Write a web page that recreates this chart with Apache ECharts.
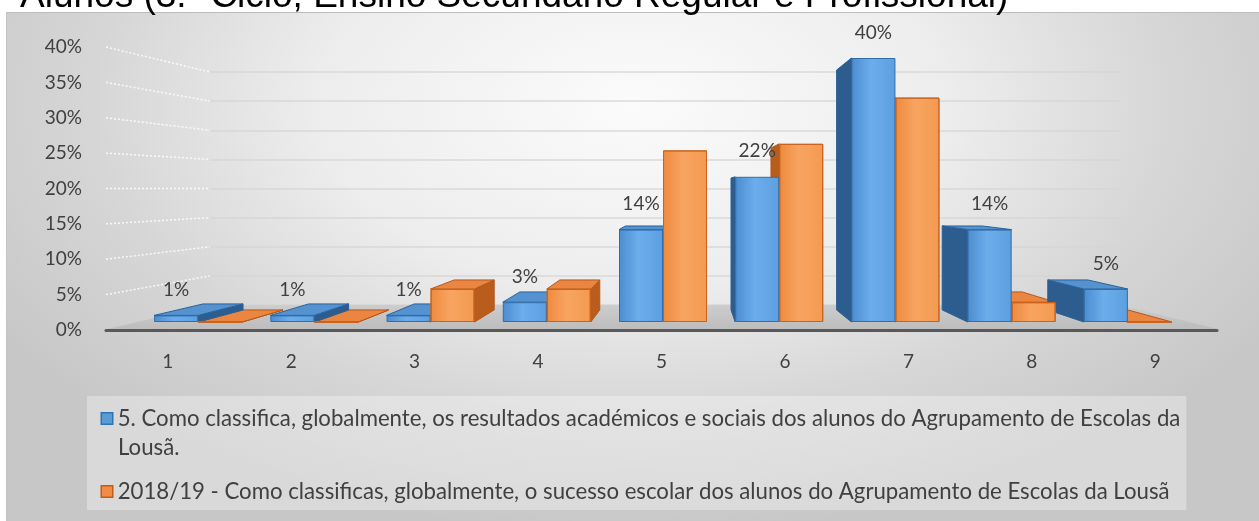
<!DOCTYPE html>
<html>
<head>
<meta charset="utf-8">
<script src="https://cdn.jsdelivr.net/npm/echarts@6/dist/echarts.min.js"></script>
<style>
  html, body { margin: 0; padding: 0; background: #ffffff; }
  #panel {
    position: absolute; left: 6px; top: 12px; width: 1253px; height: 509px;
    box-sizing: border-box; border-top: 1px solid #bcbcbc; border-left: 1px solid #c4c4c4;
    background: radial-gradient(ellipse 60% 85% at 50% 18%, #fbfbfb 0%, #ededed 42%, #d6d6d6 72%, #c7c7c7 100%);
  }
  #chart { position: absolute; left: 0; top: 0; width: 1259px; height: 521px; }
</style>
</head>
<body>
<div id="panel"></div>
<div id="chart"></div>
<script>
// Response scale 1..9 and the share of answers for each value
const categories = ['1', '2', '3', '4', '5', '6', '7', '8', '9'];
const resultsSeries = [1, 1, 1, 3, 14, 22, 40, 14, 5];
const successSeries = [0, 0, 5, 5, 26, 27, 34, 3, 0];
const percentTicks = [0, 5, 10, 15, 20, 25, 30, 35, 40];

const nameResults = '5. Como classifica, globalmente, os resultados académicos e sociais dos alunos do Agrupamento de Escolas da Lousã.';
const nameSuccess = '2018/19 - Como classificas, globalmente, o sucesso escolar dos alunos do Agrupamento de Escolas da Lousã';
const titleText = 'Alunos (3.º Ciclo, Ensino Secundário Regular e Profissional)';

const FONT = 'Lato';
const TEXT = '#404040';
const BAR_W = 44;

// simple one-point perspective for the bar boxes
const PERSPECTIVE = { depth: 0.0915, vxFrac: 0.525, horizonValue: 20 };

const chart = echarts.init(document.getElementById('chart'), null, { renderer: 'canvas' });

function hGrad(a, b, c) {
  return new echarts.graphic.LinearGradient(0, 0, 1, 0, [
    { offset: 0, color: a }, { offset: 0.45, color: b }, { offset: 1, color: c }
  ]);
}

const boxStyles = [
  { side: '#2d5c8e', top: '#5592d0', stroke: '#2a6199' },   // results
  { side: '#b95d1c', top: '#ea8640', stroke: '#b5561a' }    // success
];

// top and side faces of each bar; the front faces come from the bar series
function renderBoxes(params, api) {
  const cs = params.coordSys;
  const vx = cs.x + cs.width * PERSPECTIVE.vxFrac;
  const vy = api.coord([0, PERSPECTIVE.horizonValue])[1];
  const f = PERSPECTIVE.depth;
  const back = p => [p[0] + f * (vx - p[0]), p[1] + f * (vy - p[1])];
  const idx = api.value(0);
  const children = [];
  // draw the right-hand series first so the left one sits over it
  [[2, 0, boxStyles[1]], [1, -BAR_W, boxStyles[0]]].forEach(([dim, shift, st]) => {
    const v = api.value(dim);
    const c = api.coord([idx, v]);
    const b = api.coord([idx, 0]);
    const L = c[0] + shift, R = L + BAR_W, T = c[1], B = b[1];
    const faces = [];
    if (L > vx) faces.push({ pts: [[L, T], back([L, T]), back([L, B]), [L, B]], fill: st.side });
    if (R < vx) faces.push({ pts: [[R, T], back([R, T]), back([R, B]), [R, B]], fill: st.side });
    if (T > vy) faces.push({ pts: [[L, T], [R, T], back([R, T]), back([L, T])], fill: st.top });
    faces.forEach(fc => children.push({
      type: 'polygon', shape: { points: fc.pts },
      style: { fill: fc.fill, stroke: st.stroke, lineWidth: 1 }
    }));
  });
  return { type: 'group', children };
}

const option = {
  backgroundColor: 'transparent',
  animation: false,
  title: {
    text: titleText,
    left: 20, top: -22, padding: 0,
    textStyle: { fontFamily: 'Liberation Sans', fontSize: 37, fontWeight: 'normal', color: '#000' }
  },
  grid: [
    { left: 106, right: 42, top: 47, bottom: 191 },   // front edge: axis labels
    { left: 140, right: 73, top: 58, bottom: 199 },   // bar plane
    { left: 210, right: 139, top: 72, bottom: 216 }   // back wall
  ],
  xAxis: [
    {
      type: 'category', gridIndex: 0, data: categories,
      axisLine: { lineStyle: { color: '#595959', width: 3 } },
      axisTick: { show: false },
      axisLabel: { fontFamily: FONT, fontSize: 19, color: TEXT, margin: 22 }
    },
    { type: 'category', gridIndex: 1, data: categories, show: false },
    { type: 'category', gridIndex: 2, data: categories, show: false }
  ],
  yAxis: [
    {
      type: 'value', gridIndex: 0,
      min: percentTicks[0], max: percentTicks[percentTicks.length - 1], interval: 5,
      axisLine: { show: false }, axisTick: { show: false }, splitLine: { show: false },
      axisLabel: { formatter: '{value}%', fontFamily: FONT, fontSize: 19, color: TEXT, margin: 24 }
    },
    { type: 'value', gridIndex: 1, min: 0, max: 40, show: false },
    {
      type: 'value', gridIndex: 2, min: 0, max: 40, interval: 5,
      axisLine: { show: false }, axisTick: { show: false }, axisLabel: { show: false },
      splitLine: { show: true, lineStyle: { color: 'rgba(212,212,212,0.85)', width: 1.5 } }
    }
  ],
  legend: {
    orient: 'vertical',
    left: 87, top: 396,
    padding: [8, 6, 4, 10],
    itemGap: 15,
    itemWidth: 0, itemHeight: 0,
    icon: 'none',
    backgroundColor: 'rgba(255,255,255,0.32)',
    selectedMode: false,
    data: [nameResults, nameSuccess],
    formatter: function (name) {
      if (name === nameResults) {
        const cut = name.lastIndexOf(' ');
        return '{mb|} ' + name.slice(0, cut) + '\n{sp|}' + name.slice(cut + 1);
      }
      return '{mo|} ' + name;
    },
    textStyle: {
      fontFamily: FONT, fontSize: 22.2, color: TEXT, lineHeight: 29,
      rich: {
        mb: { width: 10, height: 10, backgroundColor: '#5b9bd5', borderColor: '#2e75b6', borderWidth: 1.5 },
        mo: { width: 10, height: 10, backgroundColor: '#f08c45', borderColor: '#c55a11', borderWidth: 1.5 },
        sp: { width: 16 }
      }
    }
  },
  series: [
    {
      name: 'caixas',
      type: 'custom',
      xAxisIndex: 1, yAxisIndex: 1,
      silent: true,
      z: 2,
      data: categories.map((c, i) => [i, resultsSeries[i], successSeries[i]]),
      renderItem: renderBoxes
    },
    {
      name: nameResults,
      type: 'bar',
      xAxisIndex: 1, yAxisIndex: 1,
      data: resultsSeries,
      barWidth: BAR_W,
      barGap: '0%',
      itemStyle: { color: hGrad('#4c8dd0', '#6cadec', '#5c9fe0'), borderColor: '#2f6eab', borderWidth: 1 },
      label: {
        show: true, position: 'top', distance: 16,
        formatter: '{c}%', fontFamily: FONT, fontSize: 19, color: TEXT
      },
      z: 3
    },
    {
      name: nameSuccess,
      type: 'bar',
      xAxisIndex: 1, yAxisIndex: 1,
      data: successSeries,
      barWidth: BAR_W,
      barGap: '0%',
      itemStyle: { color: hGrad('#ee8a3e', '#f8a461', '#f39a50'), borderColor: '#c8621d', borderWidth: 1 },
      z: 3
    }
  ]
};

chart.setOption(option);

// floor plane and the dotted guides from the front labels to the back wall
(function drawDecor() {
  const edges = gridIndex => {
    const first = chart.convertToPixel({ xAxisIndex: gridIndex }, categories[0]);
    const last = chart.convertToPixel({ xAxisIndex: gridIndex }, categories[categories.length - 1]);
    const half = (last - first) / (categories.length - 1) / 2;
    return [first - half, last + half];
  };
  const [fL, fR] = edges(0);
  const [wL, wR] = edges(2);
  const yFront = chart.convertToPixel({ yAxisIndex: 0 }, 0);
  const yWall = chart.convertToPixel({ yAxisIndex: 2 }, 0);
  const graphics = [{
    type: 'polygon', z: 0, silent: true,
    shape: { points: [[fL - 3, yFront], [fR + 5, yFront], [wR, yWall], [wL, yWall]] },
    style: {
      fill: new echarts.graphic.LinearGradient(0, 0, 0, 1, [
        { offset: 0, color: '#cdcdcd' }, { offset: 1, color: '#bcbcbc' }
      ])
    }
  }];
  percentTicks.slice(1).forEach(v => {
    const y0 = chart.convertToPixel({ yAxisIndex: 0 }, v);
    const y2 = chart.convertToPixel({ yAxisIndex: 2 }, v);
    graphics.push({
      type: 'line', z: 0, silent: true,
      shape: { x1: fL, y1: y0, x2: wL, y2: y2 },
      style: { stroke: 'rgba(255,255,255,0.85)', lineWidth: 1.5, lineDash: [2, 2] }
    });
  });
  chart.setOption({ graphic: graphics });
})();
</script>
</body>
</html>
